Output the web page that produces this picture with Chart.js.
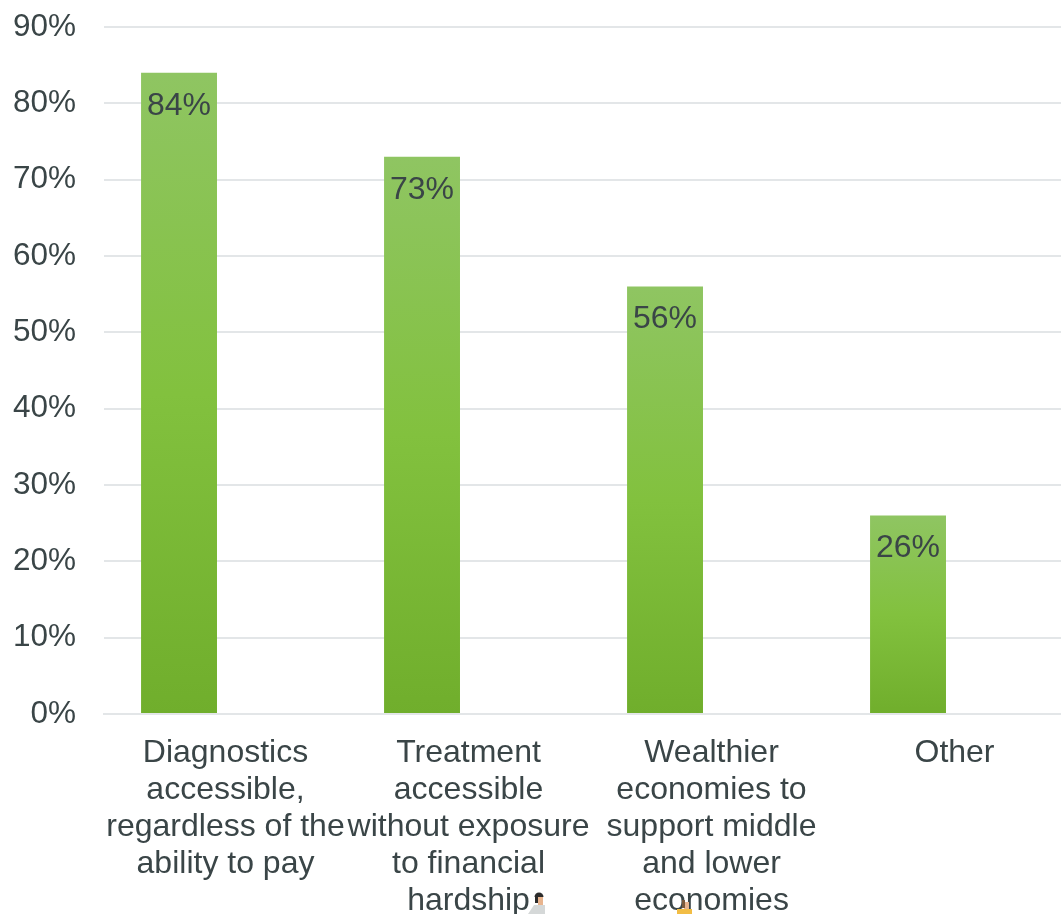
<!DOCTYPE html>
<html>
<head>
<meta charset="utf-8">
<style>
  html, body { margin: 0; padding: 0; background: #fff; overflow: hidden; }
  #wrap { width: 1061px; height: 914px; position: relative; overflow: hidden; }
  /* the plot top lands 46px down in the canvas, the reference has it at 26px */
  #myChart { position: absolute; left: 0; top: -20px; }
</style>
<script src="https://cdn.jsdelivr.net/npm/chart.js@4"></script>
</head>
<body>
<div id="wrap"><canvas id="myChart" width="1076" height="934"></canvas></div>
<script>
'use strict';

const categories = [
  ['Diagnostics', 'accessible,', 'regardless of the', 'ability to pay'],
  ['Treatment', 'accessible', 'without exposure', 'to financial', 'hardship'],
  ['Wealthier', 'economies to', 'support middle', 'and lower', 'economies'],
  ['Other']
];
const values = [84, 73, 56, 26];
// the source chart keeps an empty second series, which is why bars sit left of their labels
const emptySeries = [null, null, null, null];
const tickMax = 90;
const tickStep = 10;

const textColor = '#3a4547';
const gridColor = '#e3e6e8';
const fontName = '"Liberation Sans", Arial, sans-serif';

// bar fill runs from light at the top of each bar down to darker green
function barFill(context){
  if(context.type !== 'data' || context.raw === null){
    return '#82c13e';
  }
  const yScale = context.chart.scales.y;
  const top = yScale ? yScale.getPixelForValue(context.raw) : NaN;
  const base = yScale ? yScale.getPixelForValue(0) : NaN;
  // first pass runs before the layout, scales have no pixels yet
  if(!isFinite(top) || !isFinite(base)){
    return '#82c13e';
  }
  const g = context.chart.ctx.createLinearGradient(0, top, 0, base);
  g.addColorStop(0, '#8fc562');
  g.addColorStop(0.5, '#82c13e');
  g.addColorStop(1, '#70ae2c');
  return g;
}

// value labels sit just inside the top of each bar
const barLabels = {
  id: 'barLabels',
  afterDatasetsDraw(chart){
    const ctx = chart.ctx;
    const meta = chart.getDatasetMeta(0);
    ctx.save();
    ctx.font = '32px ' + fontName;
    ctx.fillStyle = textColor;
    ctx.textAlign = 'center';
    ctx.textBaseline = 'middle';
    meta.data.forEach(function(bar, i){
      ctx.fillText(values[i] + '%', bar.x, bar.y + 33);
    });
    ctx.restore();
  }
};

// the two tiny people peeking in at the bottom edge of the reference
const tinyFigures = {
  id: 'tinyFigures',
  afterDraw(chart){
    const ctx = chart.ctx;
    ctx.save();
    ctx.translate(0, 20);
    // man next to "hardship"
    ctx.fillStyle = '#d5d8d8';
    ctx.beginPath();
    ctx.moveTo(528, 914);
    ctx.lineTo(534, 905);
    ctx.lineTo(545, 905);
    ctx.lineTo(545, 914);
    ctx.fill();
    ctx.fillStyle = '#e8b48e';
    ctx.fillRect(538, 897, 5, 8);
    ctx.fillStyle = '#2c2c2c';
    ctx.beginPath();
    ctx.arc(539, 897, 4.5, Math.PI, Math.PI * 2);
    ctx.fill();
    ctx.fillRect(535, 897, 3, 6);
    // woman behind "economies"
    ctx.fillStyle = '#f2bd45';
    ctx.fillRect(677, 909, 15, 5);
    ctx.fillStyle = '#e8b48e';
    ctx.fillRect(684, 902, 5, 7);
    ctx.fillStyle = '#7a5a3c';
    ctx.fillRect(682, 900, 3, 8);
    ctx.restore();
  }
};

new Chart(document.getElementById('myChart'), {
  type: 'bar',
  data: {
    labels: categories,
    datasets: [
      { data: values, backgroundColor: barFill, barPercentage: 0.817, categoryPercentage: 0.765 },
      { data: emptySeries, backgroundColor: barFill, barPercentage: 0.817, categoryPercentage: 0.765 }
    ]
  },
  options: {
    responsive: false,
    animation: false,
    layout: { padding: { top: 26, right: 0, bottom: 0, left: 0 }, autoPadding: false },
    plugins: { legend: { display: false }, tooltip: { enabled: false } },
    scales: {
      x: {
        grid: { display: false, drawTicks: false },
        border: { color: gridColor, width: 2 },
        afterFit(axis){ axis.height = 200; },
        ticks: {
          color: textColor,
          font: { size: 32, family: fontName, lineHeight: 1.156 },
          padding: 21,
          maxRotation: 0,
          autoSkip: false
        }
      },
      y: {
        min: 0,
        max: tickMax,
        grid: { color: gridColor, lineWidth: 2, drawTicks: false },
        border: { display: false },
        afterFit(axis){ axis.width = 104; },
        ticks: {
          stepSize: tickStep,
          color: textColor,
          font: { size: 31.5, family: fontName },
          padding: 28,
          callback: function(v){ return v + '%'; }
        }
      }
    }
  },
  plugins: [barLabels, tinyFigures]
});
</script>
</body>
</html>
